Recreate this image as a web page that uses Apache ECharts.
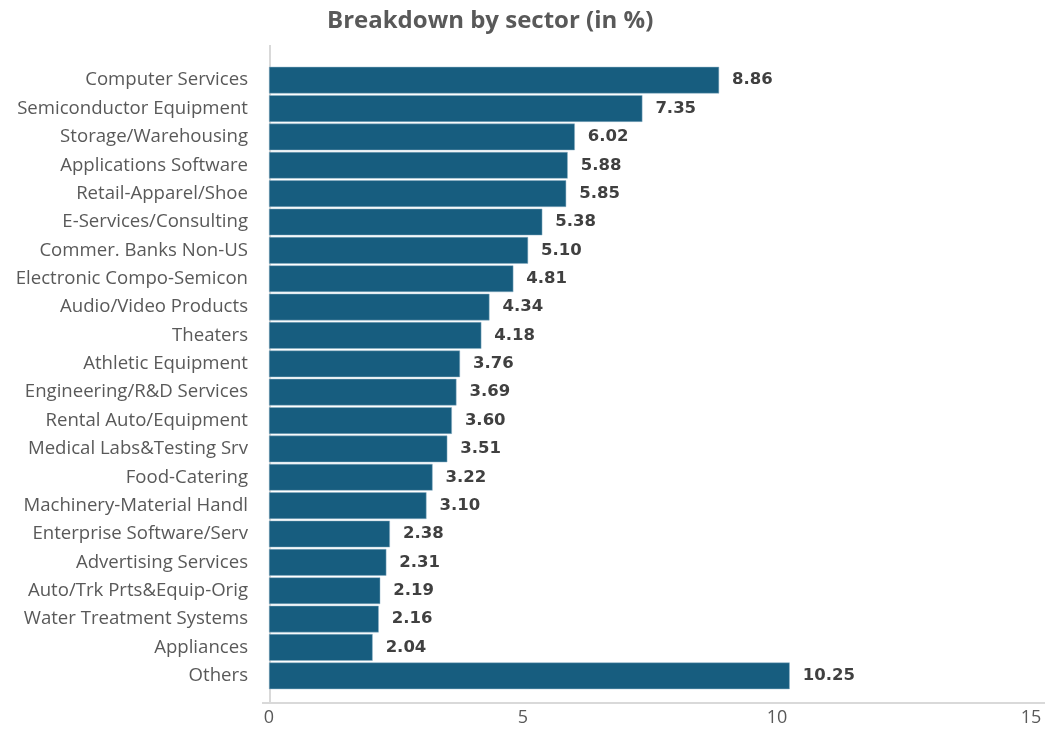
<!DOCTYPE html>
<html>
<head>
<meta charset="utf-8">
<script src="https://cdn.jsdelivr.net/npm/echarts@6/dist/echarts.min.js"></script>
<style>
  html, body { margin: 0; padding: 0; background: #fff; }
  #main { width: 1048px; height: 729px; }
</style>
</head>
<body>
<div id="main"></div>
<script>
// sectors, top to bottom
var sectors = [
  'Computer Services', 'Semiconductor Equipment', 'Storage/Warehousing',
  'Applications Software', 'Retail-Apparel/Shoe', 'E-Services/Consulting',
  'Commer. Banks Non-US', 'Electronic Compo-Semicon', 'Audio/Video Products',
  'Theaters', 'Athletic Equipment', 'Engineering/R&D Services',
  'Rental Auto/Equipment', 'Medical Labs&Testing Srv', 'Food-Catering',
  'Machinery-Material Handl', 'Enterprise Software/Serv', 'Advertising Services',
  'Auto/Trk Prts&Equip-Orig', 'Water Treatment Systems', 'Appliances', 'Others'
];
var weights = [
  8.86, 7.35, 6.02, 5.88, 5.85, 5.38, 5.10, 4.81, 4.34, 4.18, 3.76,
  3.69, 3.60, 3.51, 3.22, 3.10, 2.38, 2.31, 2.19, 2.16, 2.04, 10.25
];
var xTicks = [0, 5, 10, 15];

var chart = echarts.init(document.getElementById('main'));
var font = '"Open Sans", Roboto, sans-serif';

var option = {
  backgroundColor: '#fff',
  animation: false,
  title: {
    text: 'Breakdown by sector (in %)',
    left: 322,
    top: 4,
    textStyle: { fontFamily: font, fontSize: 24, fontWeight: 'bold', color: '#595959' }
  },
  grid: { left: 269, right: 17, top: 66, bottom: 39 },
  xAxis: {
    type: 'value',
    min: xTicks[0],
    max: xTicks[xTicks.length - 1],
    interval: 5,
    offset: 13,
    axisLine: { show: false },
    axisTick: { show: false },
    splitLine: { show: false },
    axisLabel: { fontFamily: font, fontSize: 18, color: '#595959', margin: 6 }
  },
  yAxis: {
    type: 'category',
    inverse: true,
    data: sectors,
    axisLine: { show: false },
    axisTick: { show: false },
    axisLabel: { fontFamily: font, fontSize: 18.6, color: '#595959', margin: 21 }
  },
  graphic: [
    { type: 'line', shape: { x1: 270, y1: 45, x2: 270, y2: 704 }, style: { stroke: '#d9d9d9', lineWidth: 2 } },
    { type: 'line', shape: { x1: 262, y1: 703, x2: 1045, y2: 703 }, style: { stroke: '#d9d9d9', lineWidth: 2 } }
  ],
  series: [{
    type: 'bar',
    data: weights,
    barCategoryGap: '6%',
    itemStyle: { color: '#175d7f', borderColor: '#8fb2c6', borderWidth: 0.5 },
    label: {
      show: true,
      position: 'right',
      distance: 13,
      fontFamily: '"DejaVu Sans", sans-serif',
      fontSize: 16.5,
      fontWeight: 'bold',
      color: '#404040',
      formatter: function (p) { return p.value.toFixed(2); }
    }
  }]
};
chart.setOption(option);
</script>
</body>
</html>
